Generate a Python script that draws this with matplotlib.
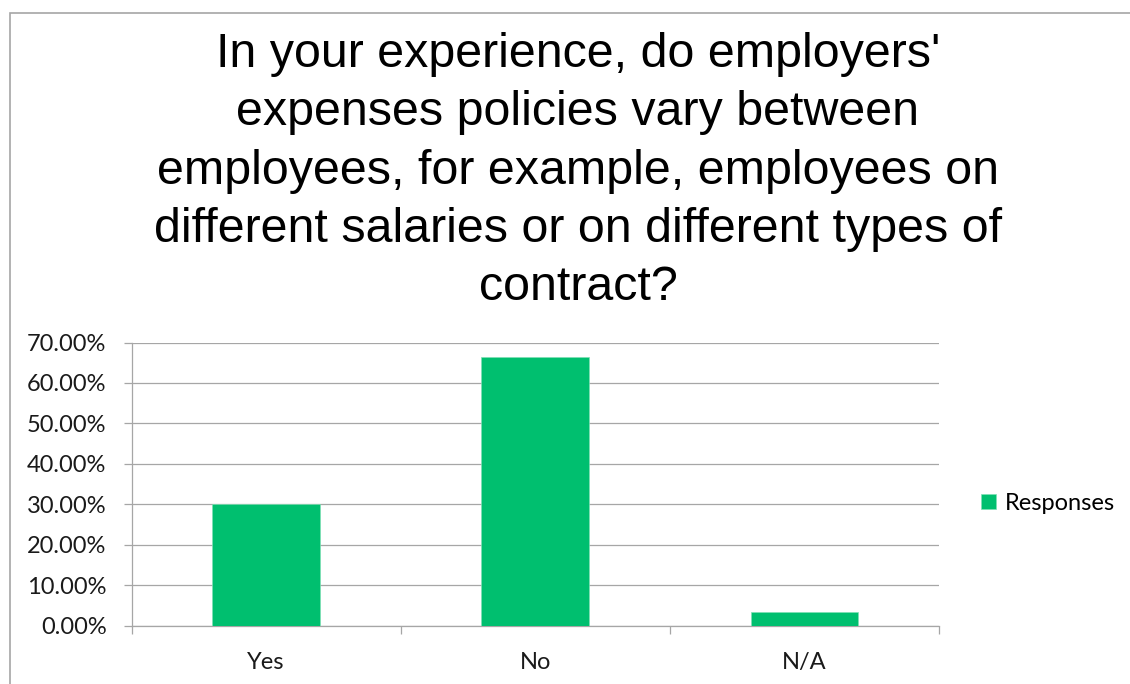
import matplotlib
matplotlib.use("Agg")
import matplotlib.pyplot as plt
from matplotlib.patches import Rectangle
from matplotlib.ticker import FuncFormatter, MultipleLocator

categories = ["Yes", "No", "N/A"]
responses = [30.1, 66.3, 3.4]
series_name = "Responses"
title = ("In your experience, do employers'\n"
         "expenses policies vary between\n"
         "employees, for example, employees on\n"
         "different salaries or on different types of\n"
         "contract?")

W, H = 1130, 684
fig = plt.figure(figsize=(W / 100, H / 100), dpi=100)
fig.patch.set_facecolor("white")

# chart-area border (open on right and bottom edges)
fig.add_artist(Rectangle((10 / W, -0.05), 1.1, (H - 13) / H + 0.05,
                         transform=fig.transFigure, fill=False,
                         edgecolor="#A6A6A6", linewidth=1.2))

left, right, top, bottom = 131.6, 939.0, 342.5, 625.5
ax = fig.add_axes([left / W, 1 - bottom / H, (right - left) / W, (bottom - top) / H])

grid_c = "#A6A6A6"
tick_font = "Lato"
tick_size = 17
x = range(len(categories))
ax.bar(x, responses, width=0.4, color="#00BF6F", edgecolor="#7FE0B5",
       linewidth=0.5, label=series_name, zorder=3)

ax.set_xlim(-0.5, len(categories) - 0.5)
ax.set_ylim(0, 70)
ax.yaxis.set_major_locator(MultipleLocator(10))
ax.yaxis.set_major_formatter(FuncFormatter(lambda v, _: f"{v:.2f}%"))
ax.grid(axis="y", color=grid_c, linewidth=0.9, zorder=0)

ax.set_xticks([i for i in x])
ax.set_xticklabels(categories)
ax.set_xticks([-0.5 + i for i in range(len(categories) + 1)], minor=True)
ax.tick_params(axis="x", which="major", length=0, pad=19, labelsize=tick_size,
               labelcolor="#1a1a1a")
ax.tick_params(axis="x", which="minor", length=6, color=grid_c, width=0.9)
ax.tick_params(axis="y", length=6, color=grid_c, width=0.9, pad=12,
               labelsize=tick_size, labelcolor="#1a1a1a")
for lbl in ax.get_xticklabels() + ax.get_yticklabels():
    lbl.set_fontfamily(tick_font)

for side in ("top", "right"):
    ax.spines[side].set_visible(False)
for side in ("left", "bottom"):
    ax.spines[side].set_color(grid_c)
    ax.spines[side].set_linewidth(0.9)

fig.text(578 / W, 1 - 32 / H, title, ha="center", va="top",
         fontsize=34.8, fontfamily="Liberation Sans", linespacing=1.38,
         color="black")

leg = ax.legend(loc="center left", bbox_to_anchor=(960 / W, 1 - 503 / H),
                bbox_transform=fig.transFigure, frameon=False,
                handlelength=0.62, handleheight=0.62, handletextpad=0.4,
                prop={"family": tick_font, "size": tick_size})

fig.savefig("out.png", dpi=100)
